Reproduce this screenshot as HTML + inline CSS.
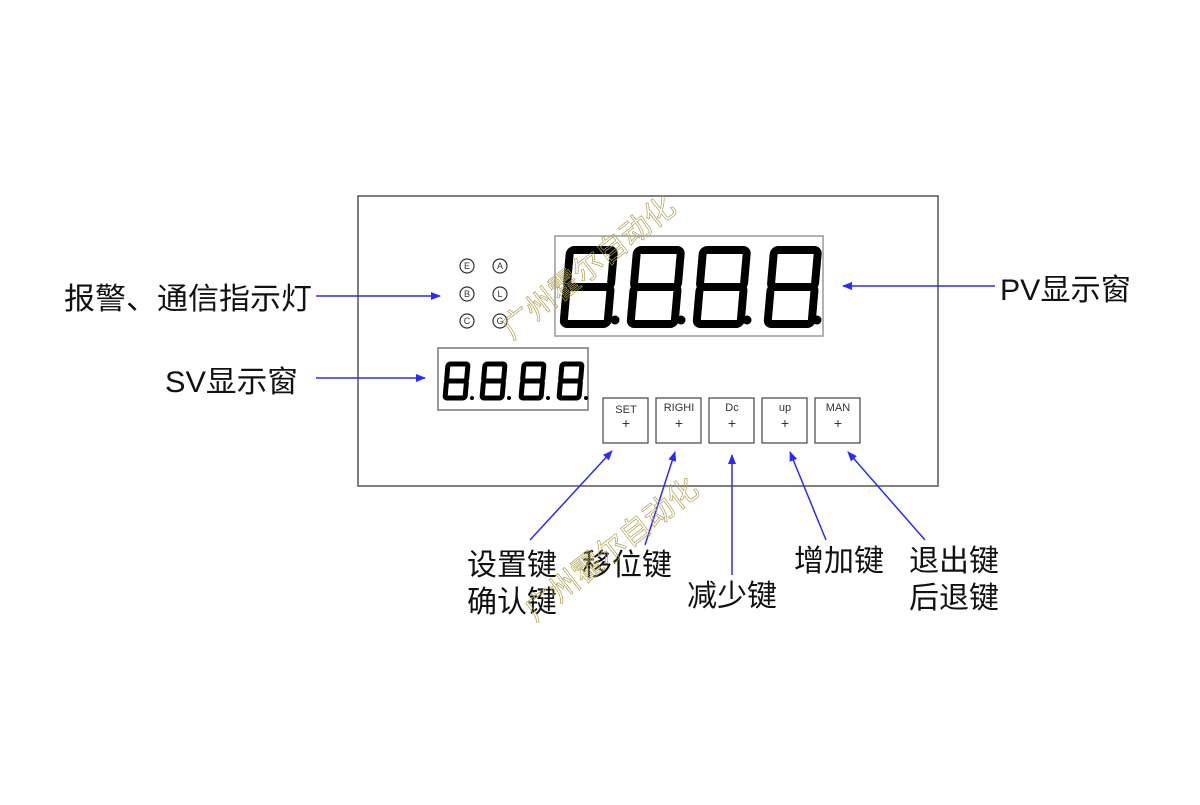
<!DOCTYPE html>
<html><head><meta charset="utf-8"><style>
body{margin:0;background:#fff}
svg text{font-family:"Liberation Sans","Noto Sans CJK SC",sans-serif}
</style></head><body>
<svg width="1200" height="800" xmlns="http://www.w3.org/2000/svg">
<defs>
<marker id="a" markerWidth="10" markerHeight="8" refX="9" refY="4" orient="auto" markerUnits="userSpaceOnUse"><path d="M0,0 L10,4 L0,8 Z" fill="#2a2aff"/></marker>
<g id="d8"><rect x="0" y="0" width="44" height="37" rx="4" fill="none" stroke="#000" stroke-width="8"/><rect x="0" y="37" width="44" height="37" rx="4" fill="none" stroke="#000" stroke-width="8"/></g>
<g id="s8"><rect x="0" y="0" width="20" height="17" rx="2" fill="none" stroke="#000" stroke-width="5"/><rect x="0" y="17" width="20" height="17" rx="2" fill="none" stroke="#000" stroke-width="5"/></g>
</defs>
<rect x="358" y="196" width="580" height="290" fill="none" stroke="#555" stroke-width="1.5"/>
<rect x="555" y="236" width="268" height="100" fill="none" stroke="#999" stroke-width="1.5"/>
<g transform="translate(570,250) skewX(-5)"><use href="#d8"/></g>
<g transform="translate(637,250) skewX(-5)"><use href="#d8"/></g>
<g transform="translate(703,250) skewX(-5)"><use href="#d8"/></g>
<g transform="translate(774,250) skewX(-5)"><use href="#d8"/></g>
<circle cx="615" cy="320" r="4.5"/><circle cx="681" cy="320" r="4.5"/><circle cx="747" cy="320" r="4.5"/><circle cx="817" cy="320" r="4.5"/>
<rect x="438" y="348" width="150" height="62" fill="none" stroke="#777" stroke-width="1.5"/>
<g transform="translate(448,364) skewX(-5)"><use href="#s8"/></g>
<g transform="translate(485,364) skewX(-5)"><use href="#s8"/></g>
<g transform="translate(524,364) skewX(-5)"><use href="#s8"/></g>
<g transform="translate(562,364) skewX(-5)"><use href="#s8"/></g>
<circle cx="472" cy="398" r="2"/><circle cx="509" cy="398" r="2"/><circle cx="548" cy="398" r="2"/><circle cx="586" cy="398" r="2"/>
<g fill="none" stroke="#333" stroke-width="1.2">
<circle cx="467" cy="266" r="7"/><circle cx="500" cy="266" r="7"/>
<circle cx="467" cy="294" r="7"/><circle cx="500" cy="294" r="7"/>
<circle cx="467" cy="321" r="7"/><circle cx="500" cy="321" r="7"/>
</g>
<g font-size="9" text-anchor="middle" fill="#333">
<text x="467" y="269">E</text><text x="500" y="269">A</text>
<text x="467" y="297">B</text><text x="500" y="297">L</text>
<text x="467" y="324">C</text><text x="500" y="324">G</text>
</g>
<g fill="none" stroke="#444" stroke-width="1.2">
<rect x="603" y="398" width="45" height="45"/><rect x="656" y="398" width="45" height="45"/><rect x="709" y="398" width="45" height="45"/><rect x="762" y="398" width="45" height="45"/><rect x="815" y="398" width="45" height="45"/>
</g>
<g font-size="11" text-anchor="middle" fill="#333">
<text x="626" y="413">SET</text><text x="679" y="411">RIGHI</text><text x="732" y="411">Dc</text><text x="785" y="411">up</text><text x="838" y="411">MAN</text>
<text x="626" y="428" font-size="14">+</text><text x="679" y="428" font-size="14">+</text><text x="732" y="428" font-size="14">+</text><text x="785" y="428" font-size="14">+</text><text x="838" y="428" font-size="14">+</text>
</g>
<g stroke="#2a2aff" stroke-width="1.5" marker-end="url(#a)">
<line x1="316" y1="296" x2="440" y2="296"/>
<line x1="316" y1="378" x2="425" y2="378"/>
<line x1="995" y1="286" x2="843" y2="286"/>
<line x1="530" y1="540" x2="612" y2="451"/>
<line x1="645" y1="545" x2="675" y2="452"/>
<line x1="732" y1="575" x2="732" y2="455"/>
<line x1="826" y1="540" x2="790" y2="452"/>
<line x1="925" y1="540" x2="848" y2="452"/>
</g>
<g font-size="30" fill="#111">
<text x="64" y="309" textLength="248" lengthAdjust="spacingAndGlyphs">报警、通信指示灯</text>
<text x="165" y="392" textLength="133" lengthAdjust="spacingAndGlyphs">SV显示窗</text>
<text x="1000" y="300" textLength="131" lengthAdjust="spacingAndGlyphs">PV显示窗</text>
<text x="467" y="575">设置键</text>
<text x="467" y="612">确认键</text>
<text x="582" y="575">移位键</text>
<text x="687" y="606">减少键</text>
<text x="794" y="571">增加键</text>
<text x="909" y="571">退出键</text>
<text x="909" y="608">后退键</text>
</g>
<g font-size="30" fill="none" stroke="#b0a050" stroke-width="0.7" font-family="Noto Serif CJK SC,serif">
<text transform="translate(512,340) rotate(-38)">广州霍尔自动化</text>
<text transform="translate(535,622) rotate(-38)">广州霍尔自动化</text>
</g>
</svg>
</body></html>
